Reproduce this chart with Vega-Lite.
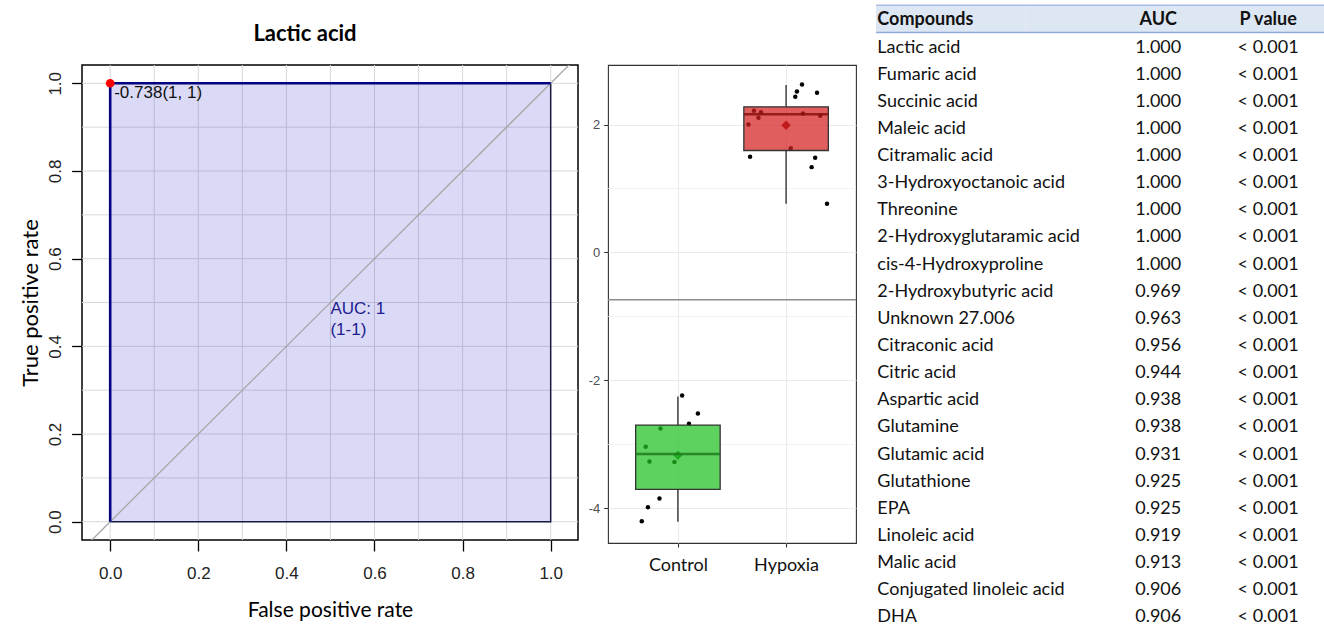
{
  "$schema": "https://vega.github.io/schema/vega-lite/v6.json",
  "padding": {"left": 18, "top": 4, "right": 0, "bottom": 0},
  "background": "white",
  "spacing": 7,
  "bounds": "full",
  "config": {"font": "Lato", "view": {"stroke": null}},
  "datasets": {
    "roc": [{"x": 0, "y": 0, "o": 1}, {"x": 0, "y": 1, "o": 2}, {"x": 1, "y": 1, "o": 3}],
    "rocArea": [{"x0": 0, "x1": 1, "y0": 0, "y1": 1}],
    "rocBorder": [{"x": 0, "y": 0, "o": 1}, {"x": 1, "y": 0, "o": 2}, {"x": 1, "y": 1, "o": 3}],
    "diag": [{"x": -0.1, "y": -0.1}, {"x": 1.1, "y": 1.1}],
    "grid": [{"v": 0}, {"v": 0.1}, {"v": 0.2}, {"v": 0.3}, {"v": 0.4}, {"v": 0.5}, {"v": 0.6}, {"v": 0.7}, {"v": 0.8}, {"v": 0.9}, {"v": 1}],
    "rocPoint": [{"x": 0, "y": 1, "label": "-0.738(1, 1)"}],
    "aucLabel": [{"x": 0.5, "y": 0.5, "label": "AUC: 1\n(1-1)"}],
    "boxPoints": [
      {"group": "Hypoxia", "pos": 1.652, "value": 2.0},
      {"group": "Hypoxia", "pos": 1.667, "value": 1.495},
      {"group": "Hypoxia", "pos": 1.703, "value": 2.214},
      {"group": "Hypoxia", "pos": 1.745, "value": 2.105},
      {"group": "Hypoxia", "pos": 1.768, "value": 2.19},
      {"group": "Hypoxia", "pos": 2.043, "value": 1.63},
      {"group": "Hypoxia", "pos": 2.085, "value": 2.433},
      {"group": "Hypoxia", "pos": 2.1, "value": 2.516},
      {"group": "Hypoxia", "pos": 2.147, "value": 2.625},
      {"group": "Hypoxia", "pos": 2.156, "value": 2.172},
      {"group": "Hypoxia", "pos": 2.236, "value": 1.334},
      {"group": "Hypoxia", "pos": 2.269, "value": 1.48},
      {"group": "Hypoxia", "pos": 2.286, "value": 2.495},
      {"group": "Hypoxia", "pos": 2.316, "value": 2.136},
      {"group": "Hypoxia", "pos": 2.378, "value": 0.76},
      {"group": "Control", "pos": 1.039, "value": -2.234},
      {"group": "Control", "pos": 1.185, "value": -2.516},
      {"group": "Control", "pos": 1.102, "value": -2.677},
      {"group": "Control", "pos": 0.839, "value": -2.75},
      {"group": "Control", "pos": 0.702, "value": -3.036},
      {"group": "Control", "pos": 0.737, "value": -3.266},
      {"group": "Control", "pos": 0.968, "value": -3.275},
      {"group": "Control", "pos": 0.83, "value": -3.844},
      {"group": "Control", "pos": 0.723, "value": -3.98},
      {"group": "Control", "pos": 0.666, "value": -4.2}
    ],
    "boxStats": [
      {"group": "Control", "pos": 1, "lower": -4.208, "q1": -3.703, "median": -3.15, "q3": -2.697, "upper": -2.25, "mean": -3.17},
      {"group": "Hypoxia", "pos": 2, "lower": 0.76, "q1": 1.594, "median": 2.16, "q3": 2.277, "upper": 2.616, "mean": 1.99}
    ],
    "threshold": [{"value": -0.738}],
    "minorGrid": [{"value": -3}, {"value": -1}, {"value": 1}],
    "table": [
      {"r": 0, "Compounds": "Compounds", "AUC": "AUC", "P value": "P value"},
      {"r": 1, "Compounds": "Lactic acid", "AUC": "1.000", "P value": "< 0.001"},
      {"r": 2, "Compounds": "Fumaric acid", "AUC": "1.000", "P value": "< 0.001"},
      {"r": 3, "Compounds": "Succinic acid", "AUC": "1.000", "P value": "< 0.001"},
      {"r": 4, "Compounds": "Maleic acid", "AUC": "1.000", "P value": "< 0.001"},
      {"r": 5, "Compounds": "Citramalic acid", "AUC": "1.000", "P value": "< 0.001"},
      {"r": 6, "Compounds": "3-Hydroxyoctanoic acid", "AUC": "1.000", "P value": "< 0.001"},
      {"r": 7, "Compounds": "Threonine", "AUC": "1.000", "P value": "< 0.001"},
      {"r": 8, "Compounds": "2-Hydroxyglutaramic acid", "AUC": "1.000", "P value": "< 0.001"},
      {"r": 9, "Compounds": "cis-4-Hydroxyproline", "AUC": "1.000", "P value": "< 0.001"},
      {"r": 10, "Compounds": "2-Hydroxybutyric acid", "AUC": "0.969", "P value": "< 0.001"},
      {"r": 11, "Compounds": "Unknown 27.006", "AUC": "0.963", "P value": "< 0.001"},
      {"r": 12, "Compounds": "Citraconic acid", "AUC": "0.956", "P value": "< 0.001"},
      {"r": 13, "Compounds": "Citric acid", "AUC": "0.944", "P value": "< 0.001"},
      {"r": 14, "Compounds": "Aspartic acid", "AUC": "0.938", "P value": "< 0.001"},
      {"r": 15, "Compounds": "Glutamine", "AUC": "0.938", "P value": "< 0.001"},
      {"r": 16, "Compounds": "Glutamic acid", "AUC": "0.931", "P value": "< 0.001"},
      {"r": 17, "Compounds": "Glutathione", "AUC": "0.925", "P value": "< 0.001"},
      {"r": 18, "Compounds": "EPA", "AUC": "0.925", "P value": "< 0.001"},
      {"r": 19, "Compounds": "Linoleic acid", "AUC": "0.919", "P value": "< 0.001"},
      {"r": 20, "Compounds": "Malic acid", "AUC": "0.913", "P value": "< 0.001"},
      {"r": 21, "Compounds": "Conjugated linoleic acid", "AUC": "0.906", "P value": "< 0.001"},
      {"r": 22, "Compounds": "DHA", "AUC": "0.906", "P value": "< 0.001"}
    ]
  },
  "hconcat": [
    {
      "width": 496,
      "height": 475,
      "view": {"stroke": "#000000", "strokeWidth": 1.5},
      "title": {"text": [" ", "Lactic acid"], "font": "Lato", "fontSize": 22, "fontWeight": "bold", "lineHeight": 16, "offset": 19, "dx": -25, "color": "#000000"},
      "layer": [
        {
          "data": {"name": "grid"},
          "mark": {"type": "rule", "color": "#d9d9d9", "strokeWidth": 1},
          "encoding": {
            "x": {"field": "v", "type": "quantitative", "scale": {"domain": [-0.064, 1.062], "nice": false, "zero": false},
              "axis": {"values": [0, 0.2, 0.4, 0.6, 0.8, 1], "format": ".1f", "grid": false, "domain": false, "tickColor": "#000000", "tickSize": 11, "tickWidth": 1.3, "labelFont": "Liberation Sans", "labelFontSize": 17, "labelColor": "#222222", "labelPadding": 14, "title": "False positive rate", "titleFont": "Lato", "titleFontSize": 21, "titleFontWeight": "normal", "titleColor": "#000000", "titlePadding": 18}}
          }
        },
        {
          "data": {"name": "grid"},
          "mark": {"type": "rule", "color": "#d9d9d9", "strokeWidth": 1},
          "encoding": {
            "y": {"field": "v", "type": "quantitative", "scale": {"domain": [-0.0417, 1.0417], "nice": false, "zero": false},
              "axis": {"values": [0, 0.2, 0.4, 0.6, 0.8, 1], "format": ".1f", "grid": false, "domain": false, "tickColor": "#000000", "tickSize": 10.4, "tickWidth": 1.3, "labelFont": "Liberation Sans", "labelFontSize": 17, "labelColor": "#222222", "labelAngle": -90, "labelAlign": "center", "labelBaseline": "alphabetic", "labelPadding": 11, "title": "True positive rate", "titleFont": "Lato", "titleFontSize": 22, "titleFontWeight": "normal", "titleColor": "#000000", "titlePadding": 4}}
          }
        },
        {
          "data": {"name": "rocArea"},
          "mark": {"type": "rect", "color": "#2222cc", "opacity": 0.17},
          "encoding": {
            "x": {"field": "x0", "type": "quantitative", "scale": {"domain": [-0.064, 1.062], "nice": false, "zero": false}},
            "x2": {"field": "x1"},
            "y": {"field": "y0", "type": "quantitative", "scale": {"domain": [-0.0417, 1.0417], "nice": false, "zero": false}},
            "y2": {"field": "y1"}
          }
        },
        {
          "data": {"name": "rocBorder"},
          "mark": {"type": "line", "color": "#1a1a40", "strokeWidth": 1.5},
          "encoding": {
            "x": {"field": "x", "type": "quantitative", "scale": {"domain": [-0.064, 1.062], "nice": false, "zero": false}},
            "y": {"field": "y", "type": "quantitative", "scale": {"domain": [-0.0417, 1.0417], "nice": false, "zero": false}},
            "order": {"field": "o"}
          }
        },
        {
          "data": {"name": "diag"},
          "mark": {"type": "line", "color": "#a6a6a6", "strokeWidth": 1.3, "clip": true},
          "encoding": {
            "x": {"field": "x", "type": "quantitative", "scale": {"domain": [-0.064, 1.062], "nice": false, "zero": false}},
            "y": {"field": "y", "type": "quantitative", "scale": {"domain": [-0.0417, 1.0417], "nice": false, "zero": false}}
          }
        },
        {
          "data": {"name": "roc"},
          "mark": {"type": "line", "color": "#000080", "strokeWidth": 2.6},
          "encoding": {
            "x": {"field": "x", "type": "quantitative", "scale": {"domain": [-0.064, 1.062], "nice": false, "zero": false}},
            "y": {"field": "y", "type": "quantitative", "scale": {"domain": [-0.0417, 1.0417], "nice": false, "zero": false}},
            "order": {"field": "o"}
          }
        },
        {
          "data": {"name": "rocPoint"},
          "mark": {"type": "point", "filled": true, "color": "#ff0000", "opacity": 1, "size": 75},
          "encoding": {
            "x": {"field": "x", "type": "quantitative", "scale": {"domain": [-0.064, 1.062], "nice": false, "zero": false}},
            "y": {"field": "y", "type": "quantitative", "scale": {"domain": [-0.0417, 1.0417], "nice": false, "zero": false}}
          }
        },
        {
          "data": {"name": "rocPoint"},
          "mark": {"type": "text", "font": "Liberation Sans", "fontSize": 17, "color": "#111111", "align": "left", "baseline": "middle", "dx": 4, "dy": 10},
          "encoding": {
            "x": {"field": "x", "type": "quantitative", "scale": {"domain": [-0.064, 1.062], "nice": false, "zero": false}},
            "y": {"field": "y", "type": "quantitative", "scale": {"domain": [-0.0417, 1.0417], "nice": false, "zero": false}},
            "text": {"field": "label"}
          }
        },
        {
          "data": {"name": "aucLabel"},
          "mark": {"type": "text", "font": "Liberation Sans", "fontSize": 17, "color": "#202090", "align": "left", "baseline": "top", "lineBreak": "\n", "lineHeight": 21, "dy": -2},
          "encoding": {
            "x": {"field": "x", "type": "quantitative", "scale": {"domain": [-0.064, 1.062], "nice": false, "zero": false}},
            "y": {"field": "y", "type": "quantitative", "scale": {"domain": [-0.0417, 1.0417], "nice": false, "zero": false}},
            "text": {"field": "label"}
          }
        }
      ]
    },
    {
      "spacing": 17,
      "bounds": "full",
      "hconcat": [
        {
          "width": 248,
          "height": 478,
          "view": {"stroke": "#333333", "strokeWidth": 1.1},
          "layer": [
            {
              "data": {"name": "minorGrid"},
              "mark": {"type": "rule", "color": "#f0f0f0", "strokeWidth": 0.8},
              "encoding": {
                "y": {"field": "value", "type": "quantitative", "scale": {"domain": [-4.54, 2.93], "nice": false, "zero": false},
                  "axis": {"values": [-4, -2, 0, 2], "labelExpr": "'' + datum.value", "grid": true, "gridColor": "#ebebeb", "gridWidth": 1.1, "domain": false, "tickColor": "#333333", "tickSize": 4.3, "tickWidth": 1.1, "labelFont": "Liberation Sans", "labelFontSize": 13, "labelColor": "#4d4d4d", "labelPadding": 4, "title": null}}
              }
            },
            {
              "data": {"name": "threshold"},
              "mark": {"type": "rule", "color": "#8c8c8c", "strokeWidth": 1.6},
              "encoding": {
                "y": {"field": "value", "type": "quantitative", "scale": {"domain": [-4.54, 2.93], "nice": false, "zero": false}}
              }
            },
            {
              "data": {"name": "boxStats"},
              "mark": {"type": "rule", "color": "#333333", "strokeWidth": 1.4},
              "encoding": {
                "x": {"field": "pos", "type": "quantitative", "scale": {"domain": [0.4, 2.6], "nice": false, "zero": false},
                  "axis": {"values": [1, 2], "labelExpr": "datum.value == 1 ? 'Control' : 'Hypoxia'", "grid": true, "gridColor": "#ebebeb", "gridWidth": 1.1, "domain": false, "tickColor": "#333333", "tickSize": 4, "tickWidth": 1.1, "labelFont": "Lato", "labelFontSize": 18, "labelColor": "#111111", "labelPadding": 9, "title": null}},
                "y": {"field": "lower", "type": "quantitative", "scale": {"domain": [-4.54, 2.93], "nice": false, "zero": false}},
                "y2": {"field": "q1"}
              }
            },
            {
              "data": {"name": "boxStats"},
              "mark": {"type": "rule", "color": "#333333", "strokeWidth": 1.4},
              "encoding": {
                "x": {"field": "pos", "type": "quantitative", "scale": {"domain": [0.4, 2.6], "nice": false, "zero": false}},
                "y": {"field": "q3", "type": "quantitative", "scale": {"domain": [-4.54, 2.93], "nice": false, "zero": false}},
                "y2": {"field": "upper"}
              }
            },
            {
              "data": {"name": "boxStats"},
              "mark": {"type": "point", "shape": "diamond", "filled": true, "opacity": 1, "size": 90},
              "encoding": {
                "x": {"field": "pos", "type": "quantitative", "scale": {"domain": [0.4, 2.6], "nice": false, "zero": false}},
                "y": {"field": "mean", "type": "quantitative", "scale": {"domain": [-4.54, 2.93], "nice": false, "zero": false}},
                "color": {"field": "group", "type": "nominal", "scale": {"domain": ["Control", "Hypoxia"], "range": ["#1e7a1e", "#8b1010"]}, "legend": null}
              }
            },
            {
              "data": {"name": "boxPoints"},
              "mark": {"type": "point", "filled": true, "color": "#000000", "opacity": 1, "size": 20},
              "encoding": {
                "x": {"field": "pos", "type": "quantitative", "scale": {"domain": [0.4, 2.6], "nice": false, "zero": false}},
                "y": {"field": "value", "type": "quantitative", "scale": {"domain": [-4.54, 2.93], "nice": false, "zero": false}}
              }
            },
            {
              "data": {"name": "boxStats"},
              "mark": {"type": "bar", "size": 84.5, "fillOpacity": 0.72, "stroke": "#333333", "strokeWidth": 1.3},
              "encoding": {
                "x": {"field": "pos", "type": "quantitative", "scale": {"domain": [0.4, 2.6], "nice": false, "zero": false}},
                "y": {"field": "q1", "type": "quantitative", "scale": {"domain": [-4.54, 2.93], "nice": false, "zero": false}},
                "y2": {"field": "q3"},
                "fill": {"field": "group", "type": "nominal", "scale": {"domain": ["Control", "Hypoxia"], "range": ["#20c020", "#d42020"]}, "legend": null}
              }
            },
            {
              "data": {"name": "boxStats"},
              "mark": {"type": "tick", "orient": "horizontal", "size": 84.5, "thickness": 2.4, "opacity": 0.85},
              "encoding": {
                "x": {"field": "pos", "type": "quantitative", "scale": {"domain": [0.4, 2.6], "nice": false, "zero": false}},
                "y": {"field": "median", "type": "quantitative", "scale": {"domain": [-4.54, 2.93], "nice": false, "zero": false}},
                "color": {"field": "group", "type": "nominal", "scale": {"domain": ["Control", "Hypoxia"], "range": ["#1e7a1e", "#8b1010"]}, "legend": null}
              }
            }
          ]
        },
        {
          "width": 448,
          "height": 558,
          "data": {"name": "table"},
          "transform": [{"fold": ["Compounds", "AUC", "P value"]}],
          "encoding": {
            "y": {"field": "r", "type": "ordinal", "scale": {"type": "band", "paddingInner": 0, "paddingOuter": 0, "range": [-59.7, 564.5]}, "axis": null}
          },
          "layer": [
            {
              "transform": [{"filter": "datum.r == 0"}],
              "mark": {"type": "rect", "color": "#dde6f3"},
              "encoding": {
                "x": {"field": "key", "type": "nominal", "scale": {"type": "band", "domain": ["Compounds", "AUC", "P value"], "paddingInner": 0, "paddingOuter": 0}, "axis": null}
              }
            },
            {
              "transform": [{"filter": "datum.r == 0 && datum.key == 'Compounds'"}],
              "mark": {"type": "rule", "color": "#a9bde6", "strokeWidth": 1.5},
              "encoding": {
                "y": {"field": "r", "type": "ordinal", "bandPosition": 0, "scale": {"type": "band", "paddingInner": 0, "paddingOuter": 0, "range": [-59.7, 564.5]}, "axis": null}
              }
            },
            {
              "transform": [{"filter": "datum.r == 0 && datum.key == 'Compounds'"}],
              "mark": {"type": "rule", "color": "#8eaadb", "strokeWidth": 1.5},
              "encoding": {
                "y": {"field": "r", "type": "ordinal", "bandPosition": 1, "scale": {"type": "band", "paddingInner": 0, "paddingOuter": 0, "range": [-59.7, 564.5]}, "axis": null}
              }
            },
            {
              "transform": [{"filter": "datum.key == 'Compounds' && datum.r == 0"}],
              "mark": {"type": "text", "font": "Lato", "fontSize": 18, "fontWeight": "bold", "color": "#111111", "align": "left", "baseline": "middle", "dy": 1.5},
              "encoding": {
                "x": {"field": "key", "type": "nominal", "bandPosition": 0.009, "scale": {"type": "band", "domain": ["Compounds", "AUC", "P value"], "paddingInner": 0, "paddingOuter": 0}, "axis": null},
                "text": {"field": "value"}
              }
            },
            {
              "transform": [{"filter": "datum.key == 'AUC' && datum.r == 0"}],
              "mark": {"type": "text", "font": "Lato", "fontSize": 18, "fontWeight": "bold", "color": "#111111", "align": "center", "baseline": "middle", "dy": 1.5},
              "encoding": {
                "x": {"field": "key", "type": "nominal", "bandPosition": 0.89, "scale": {"type": "band", "domain": ["Compounds", "AUC", "P value"], "paddingInner": 0, "paddingOuter": 0}, "axis": null},
                "text": {"field": "value"}
              }
            },
            {
              "transform": [{"filter": "datum.key == 'P value' && datum.r == 0"}],
              "mark": {"type": "text", "font": "Lato", "fontSize": 18, "fontWeight": "bold", "color": "#111111", "align": "center", "baseline": "middle", "dy": 1.5},
              "encoding": {
                "x": {"field": "key", "type": "nominal", "bandPosition": 0.626, "scale": {"type": "band", "domain": ["Compounds", "AUC", "P value"], "paddingInner": 0, "paddingOuter": 0}, "axis": null},
                "text": {"field": "value"}
              }
            },
            {
              "transform": [{"filter": "datum.key == 'Compounds' && datum.r > 0"}],
              "mark": {"type": "text", "font": "Lato", "fontSize": 18, "color": "#111111", "align": "left", "baseline": "middle", "dy": 1.5},
              "encoding": {
                "x": {"field": "key", "type": "nominal", "bandPosition": 0.009, "scale": {"type": "band", "domain": ["Compounds", "AUC", "P value"], "paddingInner": 0, "paddingOuter": 0}, "axis": null},
                "text": {"field": "value"}
              }
            },
            {
              "transform": [{"filter": "datum.key == 'AUC' && datum.r > 0"}],
              "mark": {"type": "text", "font": "Lato", "fontSize": 18, "color": "#111111", "align": "center", "baseline": "middle", "dy": 1.5},
              "encoding": {
                "x": {"field": "key", "type": "nominal", "bandPosition": 0.89, "scale": {"type": "band", "domain": ["Compounds", "AUC", "P value"], "paddingInner": 0, "paddingOuter": 0}, "axis": null},
                "text": {"field": "value"}
              }
            },
            {
              "transform": [{"filter": "datum.key == 'P value' && datum.r > 0"}],
              "mark": {"type": "text", "font": "Lato", "fontSize": 18, "color": "#111111", "align": "center", "baseline": "middle", "dy": 1.5},
              "encoding": {
                "x": {"field": "key", "type": "nominal", "bandPosition": 0.626, "scale": {"type": "band", "domain": ["Compounds", "AUC", "P value"], "paddingInner": 0, "paddingOuter": 0}, "axis": null},
                "text": {"field": "value"}
              }
            }
          ]
        }
      ]
    }
  ]
}
